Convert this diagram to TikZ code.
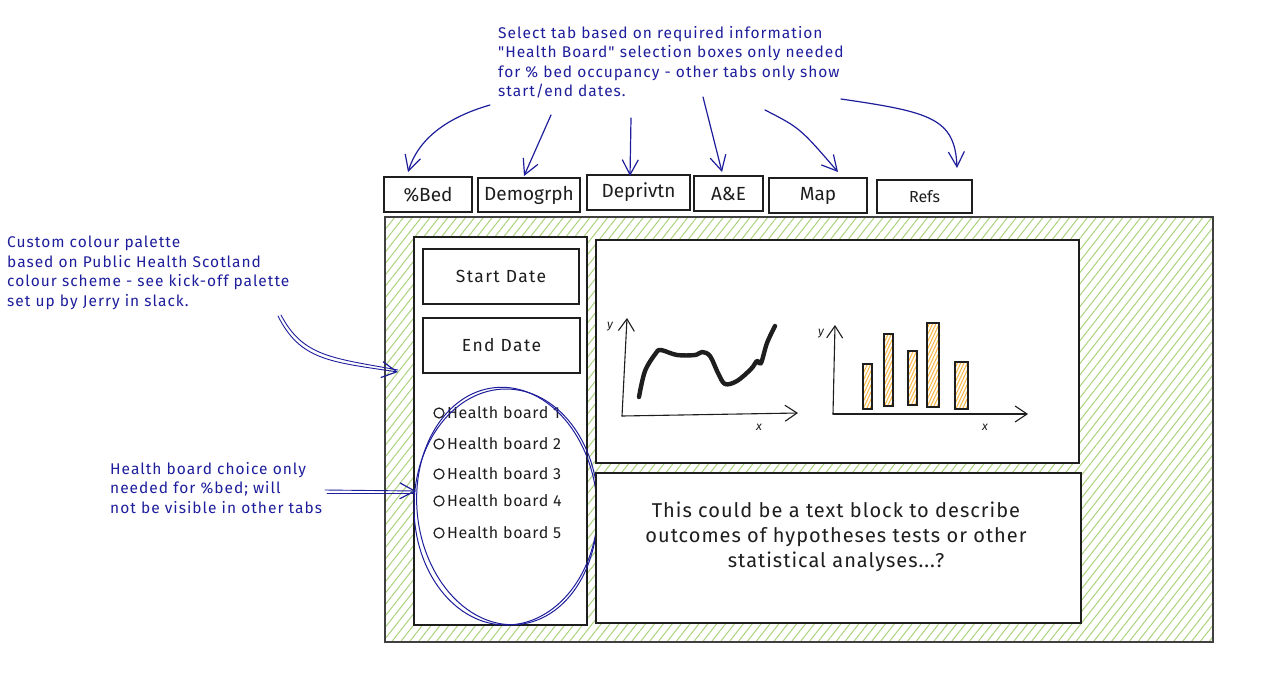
\documentclass[tikz,border=0pt]{standalone}
\usepackage{fontspec}
\setmainfont{Fira Sans}[Ligatures=TeXOff]
\usetikzlibrary{arrows.meta,patterns.meta,shapes.geometric}
\definecolor{annblue}{HTML}{1E1E9C}
\definecolor{ink}{HTML}{1E1E1E}
\definecolor{hatchgreen}{HTML}{ABD27C}
\definecolor{barorange}{HTML}{F8B43E}
\tikzset{
  ann/.style={draw=annblue, line width=1.2pt, line cap=round, -{Straight Barb[length=15pt,width=16pt,line width=1.2pt]}},
  anntext/.style={text=annblue, font=\fontsize{15.5}{19.5}\selectfont\addfontfeature{LetterSpace=6.5}, align=left, anchor=north west, inner sep=0pt},
  tabbox/.style={draw=ink, line width=1.3pt, fill=white, font=\fontsize{19}{22}\selectfont, text=ink, inner sep=0pt},
  panelbox/.style={draw=ink, line width=1.3pt, fill=white, inner sep=0pt},
  datebox/.style={draw=ink, line width=1.3pt, fill=white, font=\fontsize{17.5}{20}\selectfont\addfontfeature{LetterSpace=8}, text=ink, inner sep=0pt},
  radio/.style={circle, draw=ink, line width=1.2pt, minimum size=10pt, inner sep=0pt},
  hbtext/.style={anchor=west, font=\fontsize{16}{18}\selectfont\addfontfeature{LetterSpace=4}, text=ink, inner sep=0pt},
  axis/.style={draw=ink, line width=1.1pt, line cap=round, -{Straight Barb[length=12pt,width=16pt,line width=1.1pt]}},
  axlabel/.style={font=\fontsize{12}{14}\selectfont\itshape, text=ink, inner sep=0pt},
  bar/.style={draw=ink, line width=1.1pt, pattern={Lines[angle=65,distance=3pt,line width=1pt]}, pattern color=barorange},
  selring/.style={ellipse, draw=annblue, line width=1pt, inner sep=0pt, fill=none},
}
\begin{document}
\begin{tikzpicture}[x=1pt,y=-1pt]
\useasboundingbox (0,0) rectangle (1265,677);
% main frame
\node[draw=ink!85, line width=1.3pt, pattern={Lines[angle=52,distance=7pt,line width=1pt]}, pattern color=hatchgreen, minimum width=828pt, minimum height=425pt, inner sep=0pt] (frame) at (799,429.5) {};
% left panel
\node[panelbox, minimum width=173pt, minimum height=388pt] (left) at (500.5,431) {};
\node[datebox, minimum width=156pt, minimum height=55pt] (start) at (501,276.5) {Start Date};
\node[datebox, minimum width=157pt, minimum height=55pt] (end) at (501.5,345.5) {End Date};
% health boards
\foreach \i/\yy in {1/413,2/444,3/474,4/501,5/533}{
  \node[radio] (r\i) at (439,\yy) {};
  \node[hbtext] (hb\i) at (447,\yy) {Health board \i};
}
\node[selring, minimum width=184pt, minimum height=236pt] (ring1) at (506,507) {};
\node[selring, minimum width=180pt, minimum height=238pt, rotate=6] (ring2) at (507,506) {};
% chart box and text box
\node[panelbox, minimum width=483pt, minimum height=223pt] (charts) at (837.5,351.5) {};
\node[panelbox, minimum width=485pt, minimum height=150pt] (textblock) at (838.5,548) {};
\node[align=center, font=\fontsize{20}{25}\selectfont\addfontfeature{LetterSpace=5}, text=ink, inner sep=0pt] (tbtext) at (836,537) {This could be a text block to describe\\outcomes of hypotheses tests or other\\statistical analyses...?};
% line chart
\coordinate (o1) at (622,416);
\coordinate (y1) at (627,318);
\coordinate (x1) at (798,413);
\draw[axis] (o1) -- (y1);
\draw[axis] (o1) -- (x1);
\node[axlabel] (ly1) at (610,327) {y};
\node[axlabel] (lx1) at (759,427) {x};
\draw[ink, line width=4.4pt, line cap=round, line join=round] plot[smooth, tension=0.55] coordinates {(639,397) (645,371) (656,353) (661,350) (677,355) (695,355) (702,352) (710,356) (718,373) (725,384) (737,381) (751,369) (757,361) (761,363) (767,343) (775,326)};
% bar chart
\coordinate (o2) at (833,414);
\coordinate (y2) at (835,325);
\coordinate (x2) at (1028,414);
\draw[axis] (o2) -- (y2);
\draw[axis] (o2) -- (x2);
\node[axlabel] (ly2) at (821,334) {y};
\node[axlabel] (lx2) at (985,427) {x};
\draw[bar] (863,364) rectangle (872,409);
\draw[bar] (884,334) rectangle (893,406);
\draw[bar] (908,351) rectangle (917,405);
\draw[bar] (927,323) rectangle (939,407);
\draw[bar] (955,362) rectangle (968,409);
% tabs
\node[tabbox, minimum width=88pt, minimum height=35pt] (bed) at (428,194.5) {\%Bed};
\node[tabbox, minimum width=102pt, minimum height=34pt] (demo) at (529,195) {Demogrph};
\node[tabbox, minimum width=103pt, minimum height=35pt] (depr) at (638.5,192.5) {Deprivtn};
\node[tabbox, minimum width=69pt, minimum height=35pt] (ae) at (728.5,193.5) {A\&E};
\node[tabbox, minimum width=98pt, minimum height=35pt] (map) at (818,195.5) {Map};
\node[tabbox, minimum width=95pt, minimum height=33pt, font=\fontsize{16}{20}\selectfont] (refs) at (924.5,196.5) {Refs};
% annotations
\node[anntext] (topnote) at (498,26) {Select tab based on required information\\"Health Board" selection boxes only needed\\for \% bed occupancy - other tabs only show\\start/end dates.};
\node[anntext] (palnote) at (7,236) {Custom colour palette\\based on Public Health Scotland\\colour scheme - see kick-off palette\\set up by Jerry in slack.};
\node[anntext] (hbnote) at (110,462) {Health board choice only\\needed for \%bed; will\\not be visible in other tabs};
% top arrows
\coordinate (s1) at (490,105); \coordinate (e1) at (408,172);
\coordinate (s2) at (551,115); \coordinate (e2) at (524,176);
\coordinate (s3) at (631,118); \coordinate (e3) at (630,176);
\coordinate (s4) at (703,97);  \coordinate (e4) at (722,172);
\coordinate (s5) at (765,110); \coordinate (e5) at (838,172);
\coordinate (s6) at (841,99);  \coordinate (e6) at (957,168);
\draw[ann] (s1) .. controls (445,118) and (418,140) .. (e1);
\draw[ann] (s2) -- (e2);
\draw[ann] (s3) -- (e3);
\draw[ann] (s4) -- (e4);
\draw[ann] (s5) .. controls (800,128) .. (e5);
\draw[ann] (s6) .. controls (930,112) and (955,118) .. (e6);
% left arrows (double stroke)
\coordinate (s7) at (278,316); \coordinate (e7) at (398,372);
\draw[ann, line width=0.9pt] (s7) .. controls (300,360) and (330,362) .. (e7);
\draw[draw=annblue, line width=0.9pt, line cap=round] (281,315) .. controls (303,357) and (333,358) .. (398,370);
\coordinate (s8) at (325,490); \coordinate (e8) at (416,491);
\draw[ann, line width=0.9pt] (s8) -- (e8);
\draw[draw=annblue, line width=0.9pt, line cap=round] (327,493) -- (414,493);
\end{tikzpicture}
\end{document}
